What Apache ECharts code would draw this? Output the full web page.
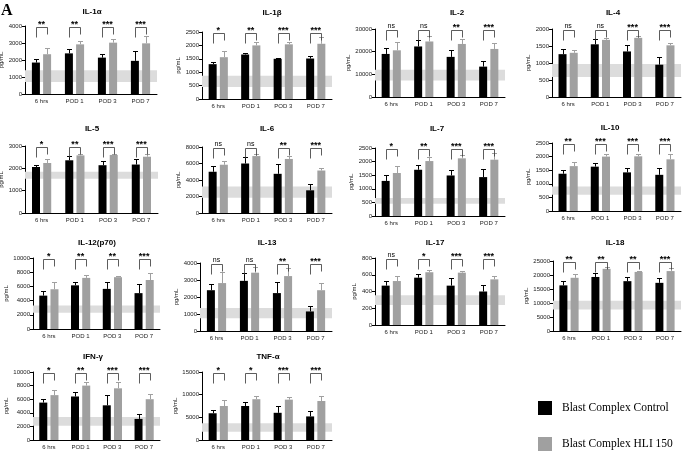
<!DOCTYPE html>
<html><head><meta charset="utf-8">
<script src="https://cdn.jsdelivr.net/npm/echarts/dist/echarts.min.js"></script>
<style>html,body{margin:0;padding:0;background:#fff}#c{width:685px;height:454px}</style>
</head><body><div id="c"></div><script>
const categories = ['6 hrs', 'POD 1', 'POD 3', 'POD 7'];

// IL-1α
const il1a_ctrl = [1850, 2390, 2140, 1950];
const il1a_ctrl_err = [2080, 2630, 2330, 2530];
const il1a_hli = [2340, 2920, 3020, 2980];
const il1a_hli_err = [2730, 3120, 3220, 3410];
const il1a_band = [700, 1400];
const il1a_sig = ['**', '**', '***', '***'];
const il1a_ticks = [0, 4000, 1000];
// IL-1β
const il1b_ctrl = [1300, 1660, 1500, 1510];
const il1b_ctrl_err = [1370, 1730, 1540, 1620];
const il1b_hli = [1560, 2000, 2040, 2060];
const il1b_hli_err = [1800, 2120, 2140, 2320];
const il1b_band = [450, 870];
const il1b_sig = ['*', '**', '***', '***'];
const il1b_ticks = [0, 2500, 500];
// IL-2
const il2_ctrl = [19000, 22300, 17700, 13400];
const il2_ctrl_err = [21400, 25000, 20900, 16000];
const il2_hli = [20600, 24500, 23400, 21200];
const il2_hli_err = [24300, 26700, 25400, 23800];
const il2_band = [7300, 12000];
const il2_sig = ['ns', 'ns', '**', '***'];
const il2_ticks = [0, 30000, 10000];
// IL-4
const il4_ctrl = [1260, 1550, 1340, 950];
const il4_ctrl_err = [1400, 1700, 1530, 1170];
const il4_hli = [1300, 1680, 1740, 1520];
const il4_hli_err = [1390, 1740, 1790, 1590];
const il4_band = [590, 970];
const il4_sig = ['ns', 'ns', '***', '***'];
const il4_ticks = [0, 2000, 500];
// IL-5
const il5_ctrl = [2060, 2360, 2140, 2170];
const il5_ctrl_err = [2170, 2530, 2350, 2400];
const il5_hli = [2240, 2580, 2600, 2520];
const il5_hli_err = [2400, 2640, 2660, 2660];
const il5_band = [1530, 1850];
const il5_sig = ['*', '**', '***', '***'];
const il5_ticks = [0, 3000, 1000];
// IL-6
const il6_ctrl = [5000, 6000, 4750, 2750];
const il6_ctrl_err = [5650, 6750, 5950, 3500];
const il6_hli = [5850, 6900, 6550, 5150];
const il6_hli_err = [6250, 7100, 6850, 5500];
const il6_band = [1850, 3200];
const il6_sig = ['ns', 'ns', '**', '***'];
const il6_ticks = [0, 8000, 2000];
// IL-7
const il7_ctrl = [1290, 1700, 1490, 1430];
const il7_ctrl_err = [1500, 1880, 1690, 1730];
const il7_hli = [1580, 2020, 2120, 2070];
const il7_hli_err = [1850, 2160, 2230, 2330];
const il7_band = [450, 660];
const il7_sig = ['*', '**', '***', '***'];
const il7_ticks = [0, 2500, 500];
// IL-10
const il10_ctrl = [1370, 1630, 1420, 1330];
const il10_ctrl_err = [1510, 1760, 1590, 1570];
const il10_hli = [1650, 2000, 2010, 1900];
const il10_hli_err = [1800, 2100, 2080, 2110];
const il10_band = [600, 900];
const il10_sig = ['**', '***', '***', '***'];
const il10_ticks = [0, 2500, 500];
// IL-12(p70)
const il12_ctrl = [4700, 6150, 5650, 5050];
const il12_ctrl_err = [5300, 6650, 6550, 6400];
const il12_hli = [5600, 7200, 7300, 6900];
const il12_hli_err = [6550, 7550, 7400, 7850];
const il12_band = [2300, 3300];
const il12_sig = ['*', '**', '**', '***'];
const il12_ticks = [0, 10000, 2000];
// IL-13
const il13_ctrl = [2400, 2950, 2230, 1150];
const il13_ctrl_err = [2750, 3400, 2900, 1470];
const il13_hli = [2820, 3430, 3230, 2400];
const il13_hli_err = [3450, 3750, 3680, 2820];
const il13_band = [750, 1350];
const il13_sig = ['ns', 'ns', '**', '***'];
const il13_ticks = [0, 4000, 1000];
// IL-17
const il17_ctrl = [470, 565, 470, 400];
const il17_ctrl_err = [520, 605, 565, 480];
const il17_hli = [525, 630, 625, 545];
const il17_hli_err = [580, 660, 645, 590];
const il17_band = [240, 355];
const il17_sig = ['ns', '*', '***', '***'];
const il17_ticks = [0, 800, 200];
// IL-18
const il18_ctrl = [16300, 19300, 17800, 17200];
const il18_ctrl_err = [17700, 20600, 19400, 18900];
const il18_hli = [19000, 22200, 21100, 21400];
const il18_hli_err = [20300, 22800, 21600, 22400];
const il18_band = [7700, 10800];
const il18_sig = ['**', '**', '**', '***'];
const il18_ticks = [0, 25000, 5000];
// IFN-γ
const ifng_ctrl = [5500, 6400, 5100, 3100];
const ifng_ctrl_err = [6100, 7000, 6600, 3800];
const ifng_hli = [6600, 8000, 7600, 6000];
const ifng_hli_err = [7400, 8500, 8600, 6700];
const ifng_band = [2100, 3400];
const ifng_sig = ['*', '**', '***', '***'];
const ifng_ticks = [0, 10000, 2000];
// TNF-α
const tnfa_ctrl = [5900, 7500, 6000, 5200];
const tnfa_ctrl_err = [6700, 8400, 7600, 6500];
const tnfa_hli = [7500, 9000, 8900, 8600];
const tnfa_hli_err = [8900, 9700, 9500, 9800];
const tnfa_band = [1800, 3700];
const tnfa_sig = ['*', '*', '***', '***'];
const tnfa_ticks = [0, 15000, 5000];

const seriesNames = ['Blast Complex Control', 'Blast Complex HLI 150'];

const panels = [
  ['IL-1α', il1a_ctrl, il1a_ctrl_err, il1a_hli, il1a_hli_err, il1a_band, il1a_sig, il1a_ticks],
  ['IL-1β', il1b_ctrl, il1b_ctrl_err, il1b_hli, il1b_hli_err, il1b_band, il1b_sig, il1b_ticks],
  ['IL-2', il2_ctrl, il2_ctrl_err, il2_hli, il2_hli_err, il2_band, il2_sig, il2_ticks],
  ['IL-4', il4_ctrl, il4_ctrl_err, il4_hli, il4_hli_err, il4_band, il4_sig, il4_ticks],
  ['IL-5', il5_ctrl, il5_ctrl_err, il5_hli, il5_hli_err, il5_band, il5_sig, il5_ticks],
  ['IL-6', il6_ctrl, il6_ctrl_err, il6_hli, il6_hli_err, il6_band, il6_sig, il6_ticks],
  ['IL-7', il7_ctrl, il7_ctrl_err, il7_hli, il7_hli_err, il7_band, il7_sig, il7_ticks],
  ['IL-10', il10_ctrl, il10_ctrl_err, il10_hli, il10_hli_err, il10_band, il10_sig, il10_ticks],
  ['IL-12(p70)', il12_ctrl, il12_ctrl_err, il12_hli, il12_hli_err, il12_band, il12_sig, il12_ticks],
  ['IL-13', il13_ctrl, il13_ctrl_err, il13_hli, il13_hli_err, il13_band, il13_sig, il13_ticks],
  ['IL-17', il17_ctrl, il17_ctrl_err, il17_hli, il17_hli_err, il17_band, il17_sig, il17_ticks],
  ['IL-18', il18_ctrl, il18_ctrl_err, il18_hli, il18_hli_err, il18_band, il18_sig, il18_ticks],
  ['IFN-γ', ifng_ctrl, ifng_ctrl_err, ifng_hli, ifng_hli_err, ifng_band, ifng_sig, ifng_ticks],
  ['TNF-α', tnfa_ctrl, tnfa_ctrl_err, tnfa_hli, tnfa_hli_err, tnfa_band, tnfa_sig, tnfa_ticks]
];

// layout: plot-area position, title position, y-name gap
const layouts = [
  {l: 25, t: 26, w: 132, h: 68, tx: 92, ty: 12, g: 18},
  {l: 202, t: 32, w: 130, h: 67, tx: 272, ty: 13, g: 20},
  {l: 375, t: 29, w: 130, h: 68, tx: 457, ty: 13, g: 22},
  {l: 552, t: 29, w: 129, h: 68, tx: 613, ty: 13, g: 21},
  {l: 25, t: 146, w: 133, h: 67, tx: 92, ty: 129, g: 18},
  {l: 202, t: 147, w: 130, h: 66, tx: 267, ty: 129, g: 20},
  {l: 375, t: 148, w: 130, h: 68, tx: 437, ty: 129, g: 20},
  {l: 552, t: 143, w: 129, h: 68, tx: 610, ty: 128, g: 21},
  {l: 33, t: 258, w: 127, h: 71, tx: 97, ty: 243, g: 24},
  {l: 200, t: 263, w: 132, h: 68, tx: 267, ty: 243, g: 20},
  {l: 375, t: 258, w: 130, h: 67, tx: 435, ty: 243, g: 18},
  {l: 553, t: 261, w: 128, h: 70, tx: 615, ty: 243, g: 23},
  {l: 33, t: 372, w: 127, h: 68, tx: 93, ty: 357, g: 24},
  {l: 202, t: 372, w: 130, h: 68, tx: 268, ty: 357, g: 23}
];

const BW = 8, HALF = 5.6;
const CTRL_COLOR = '#000000', HLI_COLOR = '#a0a0a0', BAND_COLOR = '#dcdcdc';
const TXT = '#1a1a1a', FONT = 'Liberation Sans, Arial, sans-serif';

const grid = [], xAxis = [], yAxis = [], series = [], graphic = [];

panels.forEach((p, i) => {
  const [title, ctrl, ctrlErr, hli, hliErr, band, sig, ticks] = p;
  const L = layouts[i];
  grid.push({left: L.l, top: L.t, width: L.w, height: L.h, outerBoundsMode: 'none', containLabel: false});
  xAxis.push({
    gridIndex: i, type: 'category', data: categories,
    axisLine: {lineStyle: {color: '#000', width: 1}},
    axisTick: {alignWithLabel: true, length: 3, lineStyle: {color: '#000'}},
    axisLabel: {fontSize: 6, color: TXT, margin: 4, interval: 0, fontFamily: FONT}
  });
  yAxis.push({
    gridIndex: i, type: 'value', min: ticks[0], max: ticks[1], interval: ticks[2],
    splitLine: {show: false},
    axisLine: {show: true, lineStyle: {color: '#000', width: 1}},
    axisTick: {show: true, length: 3, lineStyle: {color: '#000'}},
    axisLabel: {fontSize: 6, color: TXT, margin: 3, fontFamily: FONT, formatter: v => String(v)},
    name: 'pg/mL', nameLocation: 'middle', nameRotate: 90, nameGap: L.g,
    nameTextStyle: {fontSize: 6, color: TXT, fontFamily: FONT}
  });
  graphic.push({type: 'text', x: L.tx, y: L.ty, style: {text: title, font: 'bold 8px ' + FONT, fill: '#000', align: 'center', verticalAlign: 'middle'}});

  series.push({
    type: 'custom', name: 'band' + i, xAxisIndex: i, yAxisIndex: i, z: 1, silent: true,
    data: [[0, band[0], band[1]]], encode: {x: 0, y: [1, 2]},
    renderItem: (params, api) => {
      const cs = params.coordSys;
      const yHi = api.coord([0, api.value(2)])[1];
      const yLo = api.coord([0, api.value(1)])[1];
      return {type: 'rect', shape: {x: cs.x, y: yHi, width: cs.width, height: yLo - yHi}, style: {fill: BAND_COLOR}};
    }
  });
  series.push({type: 'bar', name: seriesNames[0], xAxisIndex: i, yAxisIndex: i, data: ctrl, barWidth: BW, barGap: '40%', itemStyle: {color: CTRL_COLOR}, z: 2, silent: true});
  series.push({type: 'bar', name: seriesNames[1], xAxisIndex: i, yAxisIndex: i, data: hli, barWidth: BW, barGap: '40%', itemStyle: {color: HLI_COLOR}, z: 2, silent: true});

  const errData = ctrl.map((v, k) => [k, v, ctrlErr[k], 0]).concat(hli.map((v, k) => [k, v, hliErr[k], 1]));
  series.push({
    type: 'custom', name: 'err' + i, xAxisIndex: i, yAxisIndex: i, z: 3, silent: true,
    data: errData, encode: {x: 0, y: [1, 2]},
    renderItem: (params, api) => {
      const c = api.value(0), which = api.value(3);
      const top = api.coord([c, api.value(2)]);
      const base = api.coord([c, api.value(1)]);
      const x = Math.round(top[0] + (which === 0 ? -HALF : HALF)) + 0.5;
      const col = which === 0 ? CTRL_COLOR : HLI_COLOR;
      const yt = Math.round(top[1]) + 0.5;
      return {type: 'group', children: [
        {type: 'line', shape: {x1: x, y1: base[1], x2: x, y2: yt}, style: {stroke: col, lineWidth: 1}},
        {type: 'line', shape: {x1: x - 2.5, y1: yt, x2: x + 2.5, y2: yt}, style: {stroke: col, lineWidth: 1}}
      ]};
    }
  });

  series.push({
    type: 'custom', name: 'sig' + i, xAxisIndex: i, yAxisIndex: i, z: 4, silent: true,
    data: sig.map((s, k) => [k, ticks[1], k]), encode: {x: 0, y: 1},
    renderItem: (params, api) => {
      const c = api.value(0);
      const pt = api.coord([c, api.value(1)]);
      const y = Math.round(pt[1]) + 1.5;
      const xl = Math.round(pt[0] - HALF) + 0.5, xr = Math.round(pt[0] + HALF) + 0.5;
      const s = sig[api.value(2)];
      const isNs = s === 'ns';
      return {type: 'group', children: [
        {type: 'polyline', shape: {points: [[xl, y + 10], [xl, y], [xr, y], [xr, y + 7]]}, style: {stroke: '#333', lineWidth: 0.8, fill: null}},
        {type: 'text', style: {text: s, x: pt[0], y: isNs ? y - 4 : y - 2.5, align: 'center', verticalAlign: 'middle',
          font: (isNs ? '7px ' : 'bold 9px ') + FONT, fill: '#000'}}
      ]};
    }
  });
});

graphic.push({type: 'text', x: 1, y: 3, style: {text: 'A', font: 'bold 16px Liberation Serif, Times New Roman, serif', fill: '#000', align: 'left', verticalAlign: 'top'}});

const chart = echarts.init(document.getElementById('c'), null, {renderer: 'canvas'});
chart.setOption({
  animation: false,
  backgroundColor: '#fff',
  grid, xAxis, yAxis, series, graphic,
  legend: {
    data: seriesNames, orient: 'vertical', left: 538, top: 401, itemWidth: 14, itemHeight: 14, itemGap: 22,
    icon: 'rect', selectedMode: false, padding: 0,
    textStyle: {fontFamily: 'Liberation Serif, Times New Roman, serif', fontSize: 11.5, color: '#000', padding: [0, 0, 0, 5]}
  }
});
</script></body></html>
